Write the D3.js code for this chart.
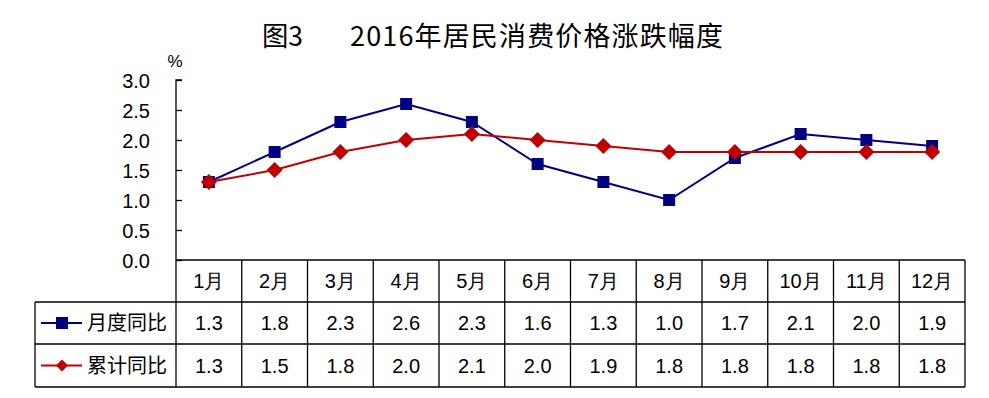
<!DOCTYPE html>
<html>
<head>
<meta charset="utf-8">
<script src="https://cdn.jsdelivr.net/npm/d3@7"></script>
<style>
body { margin: 0; background: #fff; }
text { font-family: "Liberation Sans", Arial, sans-serif; fill: #000; }
</style>
</head>
<body>
<div id="container"></div>
<script>
var months = ["1月","2月","3月","4月","5月","6月","7月","8月","9月","10月","11月","12月"];
var monthly = [1.3, 1.8, 2.3, 2.6, 2.3, 1.6, 1.3, 1.0, 1.7, 2.1, 2.0, 1.9];
var cumulative = [1.3, 1.5, 1.8, 2.0, 2.1, 2.0, 1.9, 1.8, 1.8, 1.8, 1.8, 1.8];
var seriesNames = ["月度同比", "累计同比"];
var yTicks = [0, 0.5, 1.0, 1.5, 2.0, 2.5, 3.0];

var W = 989, H = 398;
var plotLeft = 176, plotRight = 965, plotTop = 80, plotBottom = 260;
var rowH = [42, 42, 43];
var BLUE = "#000080", RED = "#C00000";
var CJK = "'Noto Sans CJK SC', 'Noto Sans', sans-serif";

var svg = d3.select("#container").append("svg")
    .attr("width", W).attr("height", H);

var x = d3.scaleBand().domain(months).range([plotLeft, plotRight]);
var y = d3.scaleLinear().domain([0, 3]).range([plotBottom, plotTop]);

// title
svg.append("text")
    .attr("x", 262).attr("y", 46)
    .style("font-family", CJK)
    .style("font-size", "27px")
    .attr("textLength", 41).attr("lengthAdjust", "spacingAndGlyphs")
    .text("图3");
svg.append("text")
    .attr("x", 350).attr("y", 46)
    .style("font-family", CJK)
    .style("font-size", "27px")
    .attr("textLength", 373).attr("lengthAdjust", "spacing")
    .text("2016年居民消费价格涨跌幅度");

svg.append("text")
    .attr("x", 175).attr("y", 67)
    .attr("text-anchor", "middle")
    .style("font-size", "17px")
    .text("%");

// y axis
var yAxis = d3.axisRight(y).tickValues(yTicks).tickSize(6).tickFormat(d3.format(".1f"));
var gy = svg.append("g").attr("transform", "translate(" + plotLeft + ",0)").call(yAxis);
gy.select(".domain").attr("stroke", "#000").attr("stroke-width", 1.3)
    .attr("d", "M6," + plotTop + "H0V" + plotBottom);
gy.selectAll(".tick line").attr("stroke", "#000").attr("stroke-width", 1.3);
gy.selectAll(".tick text")
    .attr("x", -26).attr("dy", "0.36em").attr("text-anchor", "end")
    .style("font-size", "20px")
    .style("font-family", "'Liberation Sans', Arial, sans-serif");

// table
var tableBottom = plotBottom + rowH[0] + rowH[1] + rowH[2];
var g = svg.append("g").attr("stroke", "#000").attr("stroke-width", 1.3);
g.append("line").attr("x1", plotLeft).attr("x2", plotRight).attr("y1", plotBottom).attr("y2", plotBottom);
g.append("line").attr("x1", 35).attr("x2", plotRight).attr("y1", plotBottom + rowH[0]).attr("y2", plotBottom + rowH[0]);
g.append("line").attr("x1", 35).attr("x2", plotRight).attr("y1", plotBottom + rowH[0] + rowH[1]).attr("y2", plotBottom + rowH[0] + rowH[1]);
g.append("line").attr("x1", 35).attr("x2", plotRight).attr("y1", tableBottom).attr("y2", tableBottom);
g.append("line").attr("x1", 35).attr("x2", 35).attr("y1", plotBottom + rowH[0]).attr("y2", tableBottom);
g.selectAll(".vline").data(months).enter().append("line")
    .attr("x1", function(d) { return x(d); }).attr("x2", function(d) { return x(d); })
    .attr("y1", plotBottom).attr("y2", tableBottom);
g.append("line").attr("x1", plotRight).attr("x2", plotRight).attr("y1", plotBottom).attr("y2", tableBottom);

function cellText(rowTop, h, vals, fmt) {
    svg.append("g").selectAll("text").data(vals).enter().append("text")
        .attr("x", function(d, i) { return x(months[i]) + x.bandwidth() / 2; })
        .attr("y", rowTop + h / 2 + 7)
        .attr("text-anchor", "middle")
        .style("font-size", "20px")
        .text(fmt);
}
cellText(plotBottom, rowH[0], months, function(d) { return d; });
cellText(plotBottom + rowH[0], rowH[1], monthly, function(d) { return d.toFixed(1); });
cellText(plotBottom + rowH[0] + rowH[1], rowH[2], cumulative, function(d) { return d.toFixed(1); });

// legend keys
var legendY = [plotBottom + rowH[0] + rowH[1] / 2, plotBottom + rowH[0] + rowH[1] + rowH[2] / 2];
var colors = [BLUE, RED];
legendY.forEach(function(ly, i) {
    svg.append("line").attr("x1", 41).attr("x2", 82).attr("y1", ly).attr("y2", ly)
        .attr("stroke", colors[i]).attr("stroke-width", 2);
    svg.append("text").attr("x", 87).attr("y", ly + 7)
        .style("font-family", CJK)
        .style("font-size", "20px")
        .text(seriesNames[i]);
});
svg.append("rect").attr("x", 62 - 6).attr("y", legendY[0] - 6).attr("width", 12).attr("height", 12).attr("fill", BLUE);
svg.append("path").attr("d", d3.symbol().type(d3.symbolDiamond2).size(92)())
    .attr("transform", "translate(62," + legendY[1] + ")").attr("fill", RED);

// lines
var cx = function(d, i) { return x(months[i]) + x.bandwidth() / 2; };
var line = d3.line().x(cx).y(function(d) { return y(d); });

svg.append("path").datum(monthly).attr("d", line)
    .attr("fill", "none").attr("stroke", BLUE).attr("stroke-width", 2);
svg.append("g").selectAll("rect").data(monthly).enter().append("rect")
    .attr("x", function(d, i) { return cx(d, i) - 6; })
    .attr("y", function(d) { return y(d) - 6; })
    .attr("width", 12).attr("height", 12).attr("fill", BLUE);

svg.append("path").datum(cumulative).attr("d", line)
    .attr("fill", "none").attr("stroke", RED).attr("stroke-width", 2);
svg.append("g").selectAll("path").data(cumulative).enter().append("path")
    .attr("d", d3.symbol().type(d3.symbolDiamond2).size(164)())
    .attr("transform", function(d, i) { return "translate(" + cx(d, i) + "," + y(d) + ")"; })
    .attr("fill", RED);
</script>
</body>
</html>
